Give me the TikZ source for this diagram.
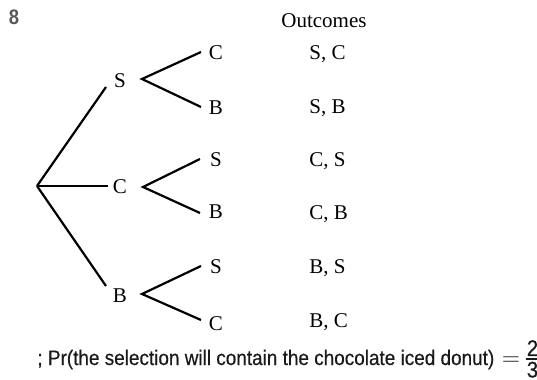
\documentclass[tikz,border=0pt]{standalone}
\usepackage{fontspec}
\setmainfont{Liberation Serif}
\newfontfamily\cond[FakeStretch=0.88]{Liberation Sans}
\newfontfamily\condtext[FakeStretch=0.902,FakeBold=0.4]{Liberation Sans}
\definecolor{numgray}{HTML}{5A5A5A}
\definecolor{txtgray}{HTML}{1A1A1A}
\begin{document}
\begin{tikzpicture}[x=0.5pt,y=-0.5pt,
  lbl/.style={inner sep=0pt,anchor=base,font=\fontsize{10.5}{12}\selectfont},
  outcome/.style={inner sep=0pt,anchor=base west,font=\fontsize{10.5}{12}\selectfont},
  branch/.style={line width=1.1pt,line cap=butt},
  ansfont/.style={inner sep=0pt,text=txtgray,font=\condtext\fontsize{10.5}{12}\selectfont},
  fracdigit/.style={inner sep=0pt,text=txtgray,font=\condtext\fontsize{11.3}{13}\selectfont}]
\useasboundingbox (0,0) rectangle (537,380);
% question number
\node[inner sep=0pt,anchor=base,text=numgray,font=\cond\bfseries\fontsize{10.5}{12}\selectfont] (num) at (14,25) {8};
% header
\node[lbl] (hdr) at (324,27) {Outcomes};
% root and vertices
\coordinate (root) at (37,186);
\coordinate (vS) at (142,79);
\coordinate (vC) at (143,187);
\coordinate (vB) at (142,294);
% end points of first level
\coordinate (eS) at (106,87);
\coordinate (eC) at (108,186);
\coordinate (eB) at (106,286);
% first level labels
\node[lbl] (S1) at (120,88) {S};
\node[lbl] (C1) at (120,193.5) {C};
\node[lbl] (B1) at (120,302) {B};
% second level ends
\coordinate (eSC) at (201,52);
\coordinate (eSB) at (201,107);
\coordinate (eCS) at (200,159);
\coordinate (eCB) at (200,213);
\coordinate (eBS) at (201,266);
\coordinate (eBC) at (201,320);
% second level labels
\node[lbl] (SC) at (216,59.5) {C};
\node[lbl] (SB) at (216,114) {B};
\node[lbl] (CS) at (216,167) {S};
\node[lbl] (CB) at (216,219) {B};
\node[lbl] (BS) at (216,273) {S};
\node[lbl] (BC) at (216,330) {C};
% outcomes
\node[outcome] (o1) at (309,60) {S, C};
\node[outcome] (o2) at (309,113) {S, B};
\node[outcome] (o3) at (309,167) {C, S};
\node[outcome] (o4) at (309,220) {C, B};
\node[outcome] (o5) at (309,273) {B, S};
\node[outcome] (o6) at (309,328) {B, C};
% branches
\draw[branch] (root) -- (eS);
\draw[branch] (root) -- (eC);
\draw[branch] (root) -- (eB);
\draw[branch] (eSC) -- (vS) -- (eSB);
\draw[branch] (eCS) -- (vC) -- (eCB);
\draw[branch] (eBS) -- (vB) -- (eBC);
% bottom statement
\node[ansfont,anchor=base west] (ans) at (37,365)
  {; Pr(the selection will contain the chocolate iced donut)};
\node[inner sep=0pt,text=txtgray,anchor=center,font=\fontsize{11.5}{14}\selectfont] (eq) at (511,361) {$=$};
\node[fracdigit,anchor=base] (numer) at (532.5,356) {2};
\node[fracdigit,anchor=base] (denom) at (532.5,377.5) {3};
\coordinate (barL) at (525.5,359);
\coordinate (barR) at (537,359);
\draw[txtgray,line width=0.55pt] (barL) -- (barR);
\end{tikzpicture}
\end{document}
